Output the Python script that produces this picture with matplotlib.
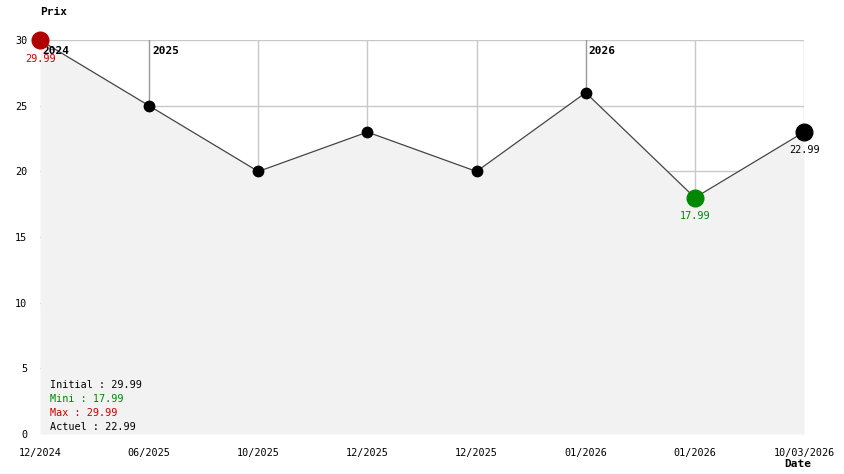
import matplotlib
matplotlib.use("Agg")
import matplotlib.pyplot as plt

dates = ["12/2024", "06/2025", "10/2025", "12/2025", "12/2025", "01/2026", "01/2026", "10/03/2026"]
prices = [29.99, 24.99, 19.99, 22.99, 19.99, 25.99, 17.99, 22.99]
year_marks = [(0, "2024"), (1, "2025"), (5, "2026")]
yticks = [0, 5, 10, 15, 20, 25, 30]

W, H = 844, 474
fig = plt.figure(figsize=(W / 100, H / 100), dpi=100)
ax = fig.add_axes([40 / W, (H - 434) / H, 764 / W, 394 / H])
x = list(range(len(prices)))
ax.set_xlim(0, len(prices) - 1)
ax.set_ylim(0, 30)
for s in ax.spines.values():
    s.set_visible(False)

font = "DejaVu Sans Mono"
grid_c = "#c8c8c8"
for yv in yticks[1:]:
    ax.axhline(yv, color=grid_c, lw=1, zorder=1)
year_idx = [i for i, _ in year_marks]
for i in x[1:]:
    ax.axvline(i, color="#999999" if i in year_idx else grid_c, lw=1, zorder=1)

ax.fill_between(x, prices, 0, color="#f2f2f2", zorder=2, lw=0)
ax.plot(x, prices, color="#444444", lw=0.9, zorder=3)

imin = prices.index(min(prices))
imax = prices.index(max(prices))
last = len(prices) - 1
for i, p in enumerate(prices):
    if i == imax:
        ax.plot(i, p, "o", ms=12, color="#b00000", zorder=5, clip_on=False)
    elif i == imin:
        ax.plot(i, p, "o", ms=12, color="#008800", zorder=5, clip_on=False)
    elif i == last:
        ax.plot(i, p, "o", ms=12, color="black", zorder=5, clip_on=False)
    else:
        ax.plot(i, p, "o", ms=7.5, color="black", zorder=5, clip_on=False)

fs = 7.3
ax.annotate(f"{prices[imax]:.2f}", (imax, prices[imax]), xytext=(0, -13.5), textcoords="offset points",
            ha="center", va="center", color="#cc0000", fontsize=fs, family=font, zorder=6)
ax.annotate(f"{prices[imin]:.2f}", (imin, prices[imin]), xytext=(0, -13.5), textcoords="offset points",
            ha="center", va="center", color="#008800", fontsize=fs, family=font, zorder=6)
ax.annotate(f"{prices[last]:.2f}", (last, prices[last]), xytext=(0, -13), textcoords="offset points",
            ha="center", va="center", color="black", fontsize=fs, family=font, zorder=6, annotation_clip=False)

for i, yr in year_marks:
    ax.annotate(yr, (i, 30), xytext=(2, -8), textcoords="offset points", ha="left", va="center",
                fontsize=8, family=font, weight="bold", zorder=4)

ax.set_xticks(x)
ax.set_xticklabels(dates, family=font, fontsize=fs)
ax.set_yticks(yticks)
ax.set_yticklabels([str(v) for v in yticks], family=font, fontsize=fs)
ax.tick_params(length=0)
ax.tick_params(axis="x", pad=10)
ax.tick_params(axis="y", pad=9)

fig.text(40 / W, 1 - 12 / H, "Prix", family=font, weight="bold", fontsize=8, va="center", ha="left")
fig.text(784 / W, 1 - 464 / H, "Date", family=font, weight="bold", fontsize=8, va="center", ha="left")

legend = [("Initial : %.2f" % prices[0], "black"),
          ("Mini : %.2f" % min(prices), "#008800"),
          ("Max : %.2f" % max(prices), "#cc0000"),
          ("Actuel : %.2f" % prices[-1], "black")]
for k, (t, c) in enumerate(legend):
    fig.text(50 / W, 1 - (385 + 14 * k) / H, t, color=c, family=font, fontsize=fs, va="center", ha="left")

fig.savefig("out.png", dpi=100)
